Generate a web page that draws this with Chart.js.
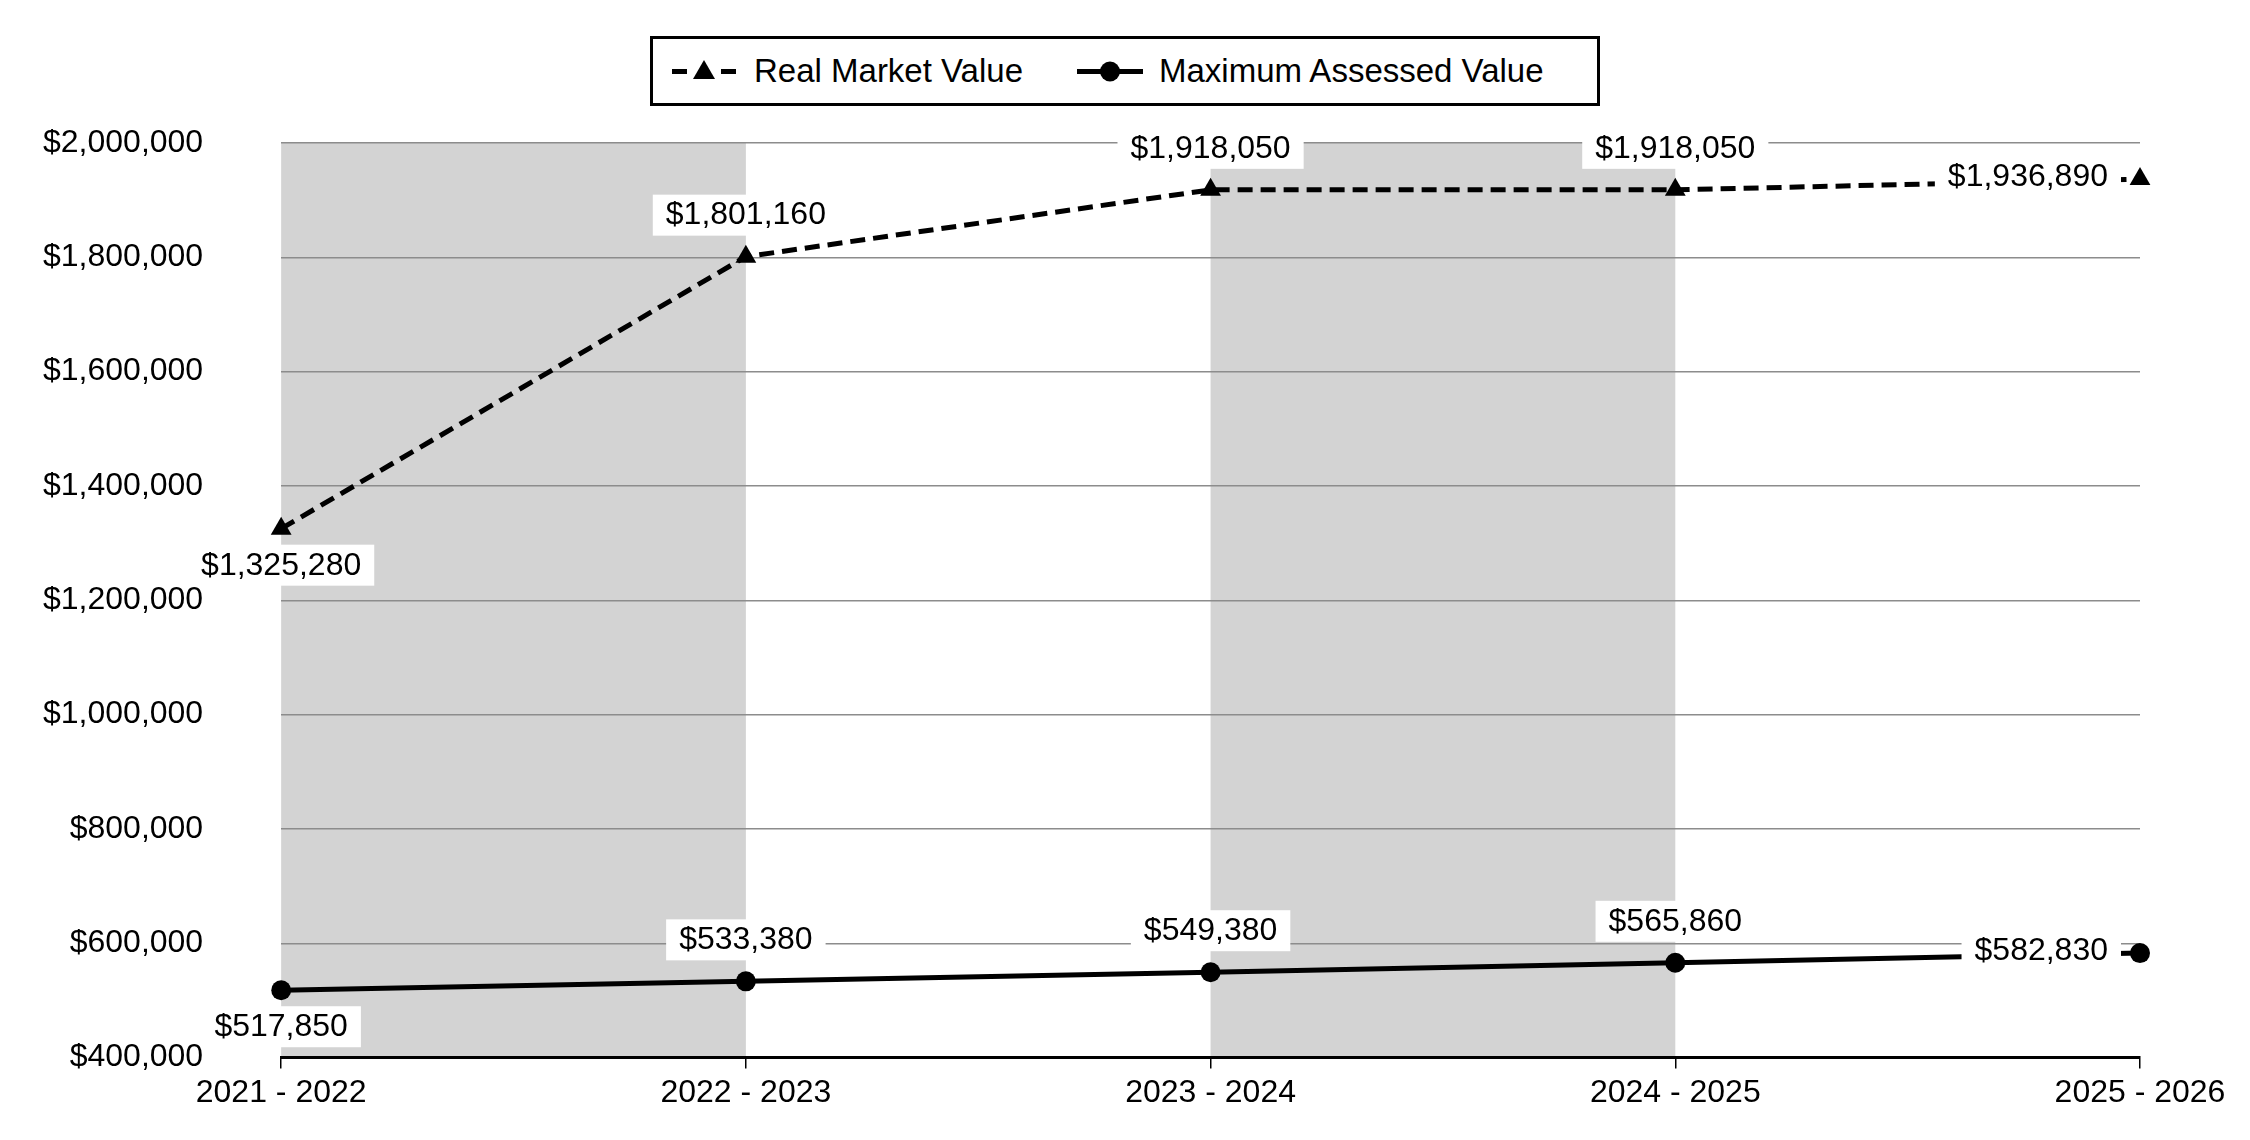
<!DOCTYPE html>
<html lang="en">
<head>
  <meta charset="UTF-8" />
  <title>Value History</title>
  <script src="https://cdn.jsdelivr.net/npm/chart.js"></script>
  <style>
    * { box-sizing: border-box; margin: 0; padding: 0; }
    body { width: 2250px; height: 1140px; background: #fff; position: relative; overflow: hidden; font-family: 'Liberation Sans', Arial, sans-serif; }
    #wrap { position: absolute; left: 0; top: 0; width: 2250px; height: 1140px; }
    .legend { position: absolute; left: 650px; top: 36px; width: 950px; height: 70px; border: 3px solid #000; background: #fff; display: flex; align-items: center; font-size: 33px; color: #000; z-index: 2; }
    .legend .item { display: flex; align-items: center; }
    .legend svg { display: block; }
  </style>
</head>
<body>
  <div id="wrap"><canvas id="valueChart"></canvas></div>

  <div class="legend">
    <div class="item" style="margin-left:19px;">
      <svg width="64" height="24" viewBox="0 0 64 24">
        <rect x="0" y="10" width="15" height="5" fill="#000"/>
        <polygon points="32,1 43,20 21,20" fill="#000"/>
        <rect x="49" y="10" width="15" height="5" fill="#000"/>
      </svg>
      <span style="margin-left:18px;">Real Market Value</span>
    </div>
    <div class="item" style="margin-left:54px;">
      <svg width="66" height="24" viewBox="0 0 66 24">
        <rect x="0" y="10" width="66" height="5" fill="#000"/>
        <circle cx="33" cy="12.5" r="10" fill="#000"/>
      </svg>
      <span style="margin-left:16px;">Maximum Assessed Value</span>
    </div>
  </div>

  <script>
    // data
    const years = ["2021 - 2022", "2022 - 2023", "2023 - 2024", "2024 - 2025", "2025 - 2026"];
    const realMarket = [1325280, 1801160, 1918050, 1918050, 1936890];
    const maxAssessed = [517850, 533380, 549380, 565860, 582830];
    const yTicks = [400000, 600000, 800000, 1000000, 1200000, 1400000, 1600000, 1800000, 2000000];

    // where each value label sits next to its point
    const realMarketLabelPos = ["below", "above", "above", "above", "left"];
    const maxAssessedLabelPos = ["below", "above", "above", "above", "left"];
    // shaded columns (between category indexes)
    const bands = [[0, 1], [2, 3]];

    const money = v => "$" + Number(v).toLocaleString("en-US");
    const FONT = "'Liberation Sans', Arial, sans-serif";

    const bandPlugin = {
      id: "bands",
      beforeDraw(chart) {
        const { ctx, chartArea, scales } = chart;
        ctx.save();
        ctx.fillStyle = "#d3d3d3";
        bands.forEach(([a, b]) => {
          const x1 = scales.x.getPixelForValue(a);
          const x2 = scales.x.getPixelForValue(b);
          ctx.fillRect(x1, chartArea.top, x2 - x1, chartArea.bottom - chartArea.top);
        });
        ctx.restore();
      }
    };

    const labelPlugin = {
      id: "valueLabels",
      afterDatasetsDraw(chart) {
        const ctx = chart.ctx;
        ctx.save();
        ctx.font = "32px " + FONT;
        ctx.textBaseline = "middle";
        ctx.textAlign = "center";
        chart.data.datasets.forEach((ds, i) => {
          const meta = chart.getDatasetMeta(i);
          meta.data.forEach((pt, j) => {
            const txt = money(ds.data[j]);
            const w = ctx.measureText(txt).width;
            const pos = ds.labelPos[j];
            let cx = pt.x, cy = pt.y;
            if (pos === "above") cy = pt.y - 42;
            else if (pos === "below") cy = pt.y + 36;
            else if (pos === "left") { cx = pt.x - 32 - w / 2; cy = pt.y - 3; }
            ctx.fillStyle = "#fff";
            ctx.fillRect(cx - w / 2 - 13, cy - 20, w + 26, 41);
            ctx.fillStyle = "#000";
            ctx.fillText(txt, cx, cy + 1);
          });
        });
        ctx.restore();
      }
    };

    const ctx = document.getElementById("valueChart").getContext("2d");
    new Chart(ctx, {
      type: "line",
      data: {
        labels: years,
        datasets: [
          {
            label: "Real Market Value",
            data: realMarket,
            labelPos: realMarketLabelPos,
            borderColor: "#000",
            backgroundColor: "#000",
            borderWidth: 5,
            borderDash: [15, 8],
            pointStyle: "triangle",
            pointRadius: 12,
            pointBorderWidth: 0,
            fill: false,
            tension: 0
          },
          {
            label: "Maximum Assessed Value",
            data: maxAssessed,
            labelPos: maxAssessedLabelPos,
            borderColor: "#000",
            backgroundColor: "#000",
            borderWidth: 5,
            pointStyle: "circle",
            pointRadius: 10,
            pointBorderWidth: 0,
            fill: false,
            tension: 0
          }
        ]
      },
      options: {
        responsive: true,
        maintainAspectRatio: false,
        animation: false,
        layout: { padding: { left: 43, right: 110, top: 143, bottom: 22 } },
        plugins: {
          legend: { display: false },
          tooltip: { enabled: false }
        },
        scales: {
          x: {
            type: "category",
            offset: false,
            grid: { display: true, drawOnChartArea: false, drawTicks: true, tickLength: 11, color: "#000", lineWidth: 1.5 },
            border: { display: true, color: "#000", width: 3 },
            ticks: { color: "#000", font: { family: FONT, size: 32 }, padding: 5.5, maxRotation: 0, autoSkip: false }
          },
          y: {
            min: 400000,
            max: 2000000,
            afterBuildTicks: axis => { axis.ticks = yTicks.map(v => ({ value: v })); },
            // invisible tick marks make the gap between the labels and the plot
            grid: { color: "#8c8c8c", lineWidth: 1.5, drawTicks: true, tickLength: 78, tickColor: "rgba(0,0,0,0)" },
            border: { display: false },
            ticks: { color: "#000", font: { family: FONT, size: 32 }, padding: 0, callback: v => money(v) }
          }
        }
      },
      plugins: [bandPlugin, labelPlugin]
    });
  </script>
</body>
</html>
